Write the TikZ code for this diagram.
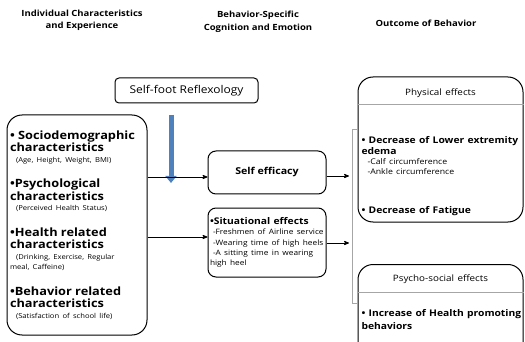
\documentclass[tikz,border=0pt]{standalone}
\usepackage{fontspec}
\setmainfont{Open Sans}[FakeStretch=1.12]
\usepackage{tikz}
\usetikzlibrary{arrows,arrows.meta}

\definecolor{reflexblue}{HTML}{4F81BD}
\newcommand{\bighd}{\bfseries\fontsize{11.4}{12.5}\selectfont}
\newcommand{\midhd}{\bfseries\fontsize{9.2}{11.5}\selectfont}
\newcommand{\smalltx}{\fontsize{6.8}{10.5}\selectfont}

\begin{document}
\begin{tikzpicture}[x=1pt,y=-1pt,>=stealth',line width=0.8pt]
    \tikzstyle{box}=[draw,rounded corners=8pt,line width=1pt,inner sep=3pt]
    \tikzstyle{bigbox}=[box,rounded corners=15pt]
    \tikzstyle{head}=[font=\bfseries\fontsize{8.5}{12.5}\selectfont,align=center]
    \tikzstyle{rule}=[gray!70,line width=0.6pt]

    \clip (0,0) rectangle (525,342);

    \node[head] (H1) at (82,20.5) {Individual Characteristics\\and Experience};
    \node[head] (H2) at (258,22) {Behavior-Specific\\Cognition and Emotion};
    \node[head] (H3) at (426,23) {Outcome of Behavior};

    \node[box,rounded corners=4pt,minimum width=143pt,minimum height=25pt,
          font=\fontsize{10.7}{12}\selectfont] (reflex) at (186.5,90.5) {Self-foot Reflexology};

    \node[bigbox,minimum width=140pt,minimum height=220pt,text width=134pt,align=left] (indiv) at (77,225) {%
      {\bighd • Sociodemographic\\characteristics\par}
      {\smalltx\hspace*{6pt}(Age, Height, Weight, BMI)\par}
      \vspace{13pt}
      {\bighd •Psychological\\characteristics\par}
      {\smalltx\hspace*{6pt}(Perceived Health Status)\par}
      \vspace{13pt}
      {\bighd •Health related\\characteristics\par}
      {\smalltx\hspace*{6pt}(Drinking, Exercise, Regular\\meal, Caffeine)\par}
      \vspace{13pt}
      {\bighd •Behavior related\\characteristics\par}
      {\smalltx\hspace*{6pt}(Satisfaction of school life)\par}};

    \node[box,minimum width=118pt,minimum height=43pt,
          font=\bfseries\fontsize{9.5}{11}\selectfont] (selfeff) at (267,172.5) {Self efficacy};
    \node[box,minimum width=118pt,minimum height=69pt,text width=114pt,inner sep=2pt,align=left] (situ) at (267,242.5) {%
      {\midhd •Situational effects\par}
      {\fontsize{7.4}{10.3}\selectfont\hspace*{3pt}-Freshmen of Airline service\\
       \hspace*{3pt}-Wearing time of high heels\\
       \hspace*{3pt}-A sitting time in wearing\\high heel\par}};

    \node[bigbox,minimum width=165pt,minimum height=145pt,text width=158pt,inner sep=3.5pt,align=left] (phys) at (440.5,149.5) {%
      {\centering\fontsize{8.8}{10}\selectfont Physical effects\par}
      \vspace{36pt}
      {\midhd • Decrease of Lower extremity\\edema\par}
      {\fontsize{7.8}{10}\selectfont\hspace*{6pt}-Calf circumference\\\hspace*{6pt}-Ankle circumference\par}
      \vspace{27pt}
      {\midhd • Decrease of Fatigue\par}
      \vspace{-15.5pt}\null};
    \node[bigbox,anchor=north,minimum width=165pt,text width=158pt,inner xsep=3.5pt,inner ysep=10pt,align=left] (psych) at (440.5,264) {%
      {\centering\fontsize{8.8}{10}\selectfont Psycho-social effects\par}
      \vspace{23pt}
      {\midhd\baselineskip=12.5pt\mbox{• Increase of Health promoting}\\behaviors\par}
      \vspace{10pt}\null};

    \draw[rule] (phys.west |- 0,104) -- (phys.east |- 0,104);
    \draw[rule] (psych.west |- 0,292) -- (psych.east |- 0,292);

    \coordinate (brtop) at (352,129);
    \coordinate (brbot) at (352,303);
    \draw[rule] ([xshift=5pt]brtop) -- (brtop) -- (brbot) -- ([xshift=5pt]brbot);

    \coordinate (bluetop) at (171,115);
    \coordinate (bluetip) at (171,183);
    \draw[reflexblue,line width=5pt,-{Triangle[width=11pt,length=7pt]}] (bluetop) -- (bluetip);

    \draw[->] (indiv.east |- 0,177) -- (selfeff.west |- 0,177);
    \draw[->] (indiv.east |- 0,237) -- (situ.west |- 0,237);
    \draw[->,shorten >=3pt] (selfeff.east |- 0,176) -- (brtop |- 0,176);
    \draw[->,shorten >=3pt] (situ.east |- 0,243) -- (brtop |- 0,243);
\end{tikzpicture}
\end{document}
